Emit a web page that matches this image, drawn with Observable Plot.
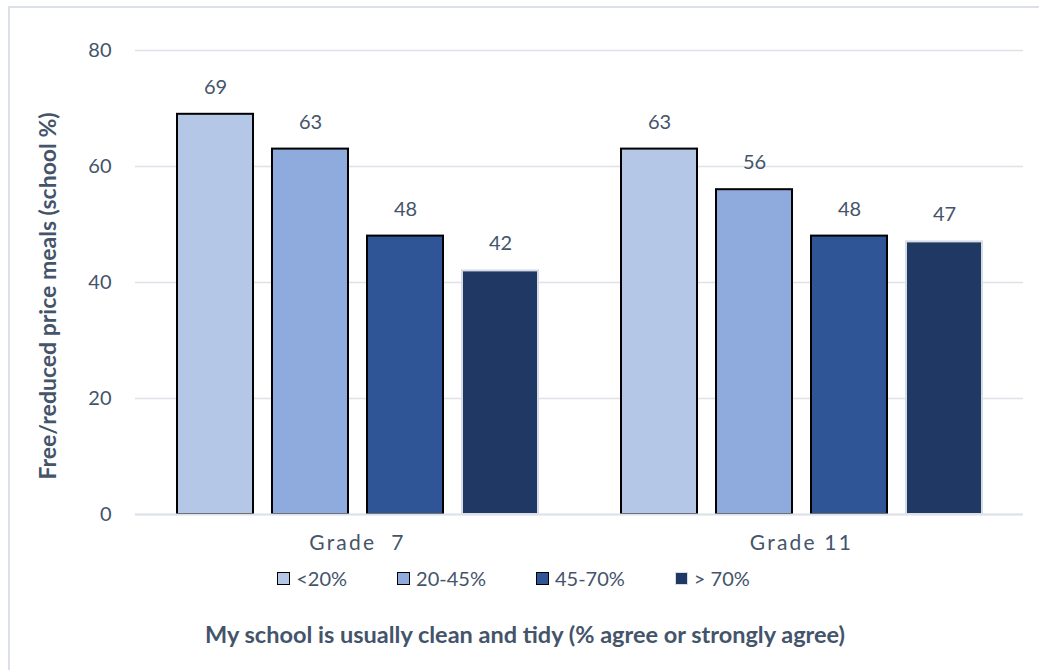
<!DOCTYPE html>
<html>
<head>
<meta charset="utf-8">
<script src="https://cdn.jsdelivr.net/npm/d3@7"></script>
<script src="https://cdn.jsdelivr.net/npm/@observablehq/plot@0.6"></script>
<style>
  html, body { margin: 0; padding: 0; background: #ffffff; }
  body { width: 1039px; height: 670px; position: relative; overflow: hidden; font-family: Lato, "Open Sans", sans-serif; color: #44546a; }
  #frame { position: absolute; left: 8px; top: 6px; width: 1100px; height: 720px; border: 2px solid #dce1e8; box-sizing: border-box; }
  #chart { position: absolute; left: 0; top: 0; }
  #ytitle { position: absolute; left: 47px; top: 296px; transform: translate(-50%, -50%) rotate(-90deg); white-space: nowrap; font-weight: bold; font-size: 23px; }
  #legend { position: absolute; left: 0; top: 566px; width: 1027px; display: flex; justify-content: center; gap: 50px; font-size: 20px; line-height: 24px; }
  #legend .item { display: flex; align-items: center; }
  #legend .sw { width: 11px; height: 11px; border: 1.5px solid #000; margin-right: 6px; }
  #xtitle { position: absolute; left: 0; top: 619px; width: 1050px; text-align: center; font-weight: bold; font-size: 23.5px; line-height: 30px; white-space: nowrap; }
  svg [aria-label="fx-axis tick label"] text { letter-spacing: 2.2px; white-space: pre; }
</style>
</head>
<body>
<div id="frame"></div>
<div id="chart"></div>
<div id="ytitle">Free/reduced price meals (school %)</div>
<div id="legend"></div>
<div id="xtitle">My school is usually clean and tidy (% agree or strongly agree)</div>
<script>
// Grade groups and the school-level share of students in each band
const grades = ["Grade  7", "Grade 11"];
const bands = ["<20%", "20-45%", "45-70%", "> 70%"];
const grade7 = [69, 63, 48, 42];
const grade11 = [63, 56, 48, 47];
const yTicks = [0, 20, 40, 60, 80];

// Series styling
const fills = ["#b4c7e7", "#8faadc", "#2f5597", "#203864"];
const outlines = ["#000000", "#000000", "#000000", "#d6dce5"];

const seriesByGrade = [grade7, grade11];
const rows = grades.flatMap((g, i) =>
  bands.map((b, j) => ({ grade: g, band: b, value: seriesByGrade[i][j] }))
);

const gridStroke = "#dde2e9";
// Gridlines run across the whole frame, not only each facet's band
const gridInset = -40;

const chart = Plot.plot({
  width: 1039,
  height: 560,
  marginLeft: 135,
  marginRight: 15,
  marginTop: 50,
  marginBottom: 46,
  style: { fontFamily: "Lato, 'Open Sans', sans-serif", fontSize: "20px", color: "#44546a", background: "transparent" },
  fx: { domain: grades, paddingInner: 0.18, paddingOuter: 0.09, axis: null, label: null },
  x: { domain: bands, paddingInner: 0.2, paddingOuter: 0, axis: null },
  y: { domain: [0, 80], axis: null },
  color: { domain: bands, range: fills },
  marks: [
    Plot.ruleY(yTicks, { stroke: gridStroke, strokeWidth: 1.5, insetLeft: gridInset, insetRight: gridInset }),
    Plot.barY(rows, {
      fx: "grade", x: "band", y: "value", fill: "band",
      stroke: (d) => outlines[bands.indexOf(d.band)], strokeWidth: 2
    }),
    Plot.ruleY([0], { stroke: gridStroke, strokeWidth: 2, insetLeft: gridInset, insetRight: gridInset }),
    Plot.text(rows, { fx: "grade", x: "band", y: "value", text: "value", dy: -27, fill: "#44546a" }),
    Plot.axisFx({ anchor: "bottom", tickSize: 0, tickPadding: 21, label: null, fontSize: 21 }),
    Plot.axisY({ ticks: yTicks, tickSize: 0, tickPadding: 64, label: null })
  ]
});
document.getElementById("chart").append(chart);

// Legend swatches
const legend = document.getElementById("legend");
bands.forEach((b, i) => {
  const item = document.createElement("div");
  item.className = "item";
  const sw = document.createElement("span");
  sw.className = "sw";
  sw.style.background = fills[i];
  sw.style.borderColor = outlines[i];
  const label = document.createElement("span");
  label.textContent = b;
  item.append(sw, label);
  legend.append(item);
});
</script>
</body>
</html>
